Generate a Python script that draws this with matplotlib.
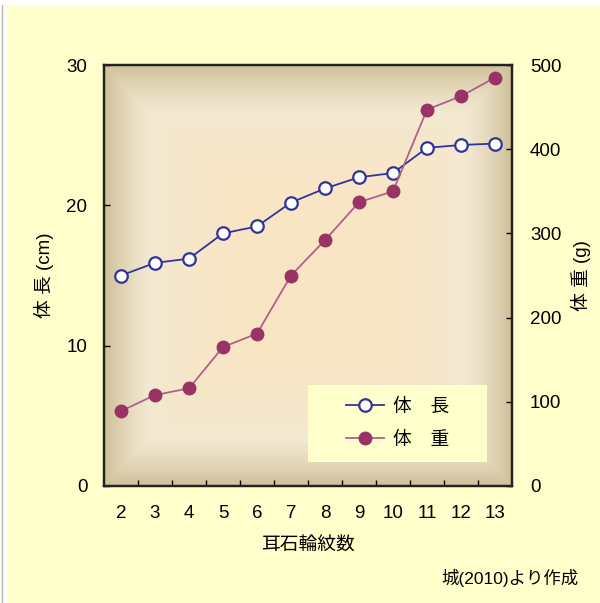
import numpy as np
from matplotlib import pyplot as plt
from matplotlib.colors import LinearSegmentedColormap
from matplotlib.patches import Rectangle
from matplotlib.lines import Line2D

plt.rcParams['font.family'] = ['Liberation Sans', 'Noto Sans CJK JP', 'DejaVu Sans']

# otolith ring count vs. body length / body weight
rings = [2, 3, 4, 5, 6, 7, 8, 9, 10, 11, 12, 13]
length_cm = [15.0, 15.9, 16.2, 18.0, 18.5, 20.2, 21.2, 22.0, 22.3, 24.1, 24.3, 24.4]
weight_g = [89, 108, 116, 165, 181, 250, 292, 337, 350, 447, 463, 485]

BG = '#FFFFCC'
BLUE = '#333399'
PLUM = '#993366'

fig = plt.figure(figsize=(6.0, 6.03), dpi=100)
fig.patch.set_facecolor('white')
fig.patches.append(Rectangle((7 / 600, 0), 1, 1 - 5 / 603, transform=fig.transFigure,
                             facecolor=BG, edgecolor='none', zorder=-10))
fig.add_artist(Line2D([1.5 / 600, 1.5 / 600], [0, 1 - 5 / 603], transform=fig.transFigure,
                      color='#b8b8a0', lw=1))

ax = fig.add_axes([104 / 600, 1 - 486 / 603, 408 / 600, 421 / 603])
ax2 = ax.twinx()

# rectangular "from centre" gradient for the plot area
n = 500
u = np.linspace(-1, 1, n)
U, V = np.meshgrid(u, u)
d = np.maximum(np.abs(U), np.abs(V))
cmap = LinearSegmentedColormap.from_list('bg', [
    (0.0, '#F9E5C4'), (0.45, '#F3E9D2'), (1.0, '#D0C09A')])
ax.imshow(d ** 3.2, cmap=cmap, extent=[0, 1, 0, 1], transform=ax.transAxes,
          aspect='auto', zorder=0, vmin=0, vmax=1, interpolation='bilinear')

x = np.arange(len(rings))
ax.plot(x, length_cm, color=BLUE, lw=1.3, marker='o', ms=9, mfc='white',
        mec=BLUE, mew=1.6, zorder=3, clip_on=False)
ax2.plot(x, weight_g, color='#B0608A', lw=1.3, marker='o', ms=9, mfc=PLUM,
         mec=PLUM, zorder=3, clip_on=False)

ax.set_xlim(-0.5, len(rings) - 0.5)
ax.set_ylim(0, 30)
ax2.set_ylim(0, 500)
ax.set_yticks([0, 10, 20, 30])
ax2.set_yticks([0, 100, 200, 300, 400, 500])

# category labels at the points, tick marks between categories
ax.set_xticks(x)
ax.set_xticklabels([str(r) for r in rings])
ax.set_xticks(np.arange(0.5, len(rings) - 1, 1), minor=True)
ax.tick_params(axis='x', which='major', length=0, pad=14, labelsize=13.5)
ax.tick_params(axis='x', which='minor', direction='in', length=4, width=1)
ax.tick_params(axis='y', direction='in', length=4, width=1, pad=12, labelsize=13.5)
ax2.tick_params(axis='y', direction='in', length=4, width=1, pad=13, labelsize=13.5)

for a in (ax, ax2):
    for s in a.spines.values():
        s.set_linewidth(1.6)
        s.set_color('#222222')

ax.set_xlabel('耳石輪紋数', fontsize=13.5, labelpad=11)
ax.set_ylabel('体 長 (cm)', fontsize=13.5, labelpad=9)
ax2.set_ylabel('体 重 (g)', fontsize=13.5, labelpad=7, rotation=90)

# legend on a pale box
ax.add_patch(Rectangle((204 / 408, 24 / 421), 179 / 408, 77 / 421, transform=ax.transAxes,
                       facecolor=BG, edgecolor='none', zorder=4))
handles = [Line2D([], [], color=BLUE, lw=1.3, marker='o', ms=9, mfc='white', mec=BLUE, mew=1.6),
           Line2D([], [], color='#B0608A', lw=1.3, marker='o', ms=9, mfc=PLUM, mec=PLUM)]
leg = ax2.legend(handles, ['体\u3000長', '体\u3000重'], loc='center',
                 bbox_to_anchor=(0.72, 0.148), frameon=False, fontsize=13.5,
                 handlelength=2.0, handletextpad=0.5, labelspacing=0.85)
leg.set_zorder(5)

fig.text(578 / 600, 1 - 578 / 603, '城(2010)より作成', ha='right', va='center', fontsize=12.5)

fig.savefig('out.png', dpi=100, facecolor=fig.get_facecolor())
